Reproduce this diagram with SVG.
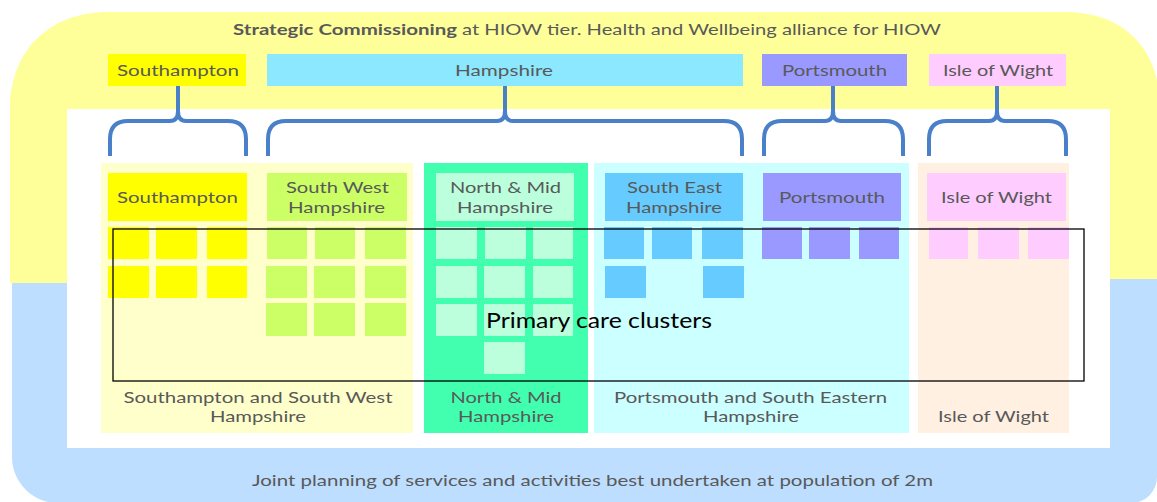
<svg xmlns="http://www.w3.org/2000/svg" width="1157" height="502" viewBox="0 0 1157 502">
<defs>
<style>
text{font-family:Lato,"Open Sans","Liberation Sans",sans-serif;fill:#595959;font-size:15px;text-anchor:middle}
.t16{font-size:16px}
.brace{fill:none;stroke:#4a7fc9;stroke-width:4;stroke-linejoin:round}
.yel{fill:#ffff00}
.sw{fill:#ccff66}
.nm{fill:#bbffdd}
.se{fill:#66ccff}
.pt{fill:#9999ff}
.iw{fill:#ffccff}
</style>
</defs>
<rect width="1157" height="502" fill="#ffffff"/>
<g id="background">
<path d="M108,12 H1065 C1125,12 1160,50 1160,107 V280 H1110 V109 H67 V283 H10 V109 C10,50 50,12 108,12 Z" fill="#ffff99"/>
<path d="M12,283 H67 V448 H1110 V279 H1157 V477 A26,26 0 0 1 1131,503 H58 A46,46 0 0 1 12,457 Z" fill="#bddefe"/>
<rect x="67" y="109" width="1043" height="339" fill="#ffffff"/>
<text class="t16" x="233" y="35" style="text-anchor:start"><tspan font-weight="bold" textLength="224" lengthAdjust="spacingAndGlyphs">Strategic Commissioning</tspan><tspan x="462" textLength="479" lengthAdjust="spacingAndGlyphs">at HIOW tier. Health and Wellbeing alliance for HIOW</tspan></text>
<text class="t16" x="592.5" y="486" textLength="681" lengthAdjust="spacingAndGlyphs">Joint planning of services and activities best undertaken at population of 2m</text>
</g>
<g id="top-southampton">
<rect class="yel" x="108" y="54" width="138" height="32"/>
<text x="178" y="76" textLength="122" lengthAdjust="spacingAndGlyphs">Southampton</text>
</g>
<g id="top-hampshire">
<rect x="267" y="54" width="476" height="32" fill="#8ce8fe"/>
<text x="504" y="76" textLength="98" lengthAdjust="spacingAndGlyphs">Hampshire</text>
</g>
<g id="top-portsmouth">
<rect class="pt" x="762" y="54" width="145" height="32"/>
<text x="834.5" y="76" textLength="105" lengthAdjust="spacingAndGlyphs">Portsmouth</text>
</g>
<g id="top-isle-of-wight">
<rect class="iw" x="929" y="54" width="137" height="32"/>
<text x="998" y="76" textLength="110" lengthAdjust="spacingAndGlyphs">Isle of Wight</text>
</g>
<g id="connectors">
<path class="brace" d="M110,156 V139 Q110,121 128,121 H170 Q178,121 178,111 V86 M178,111 Q178,121 186,121 H228 Q246,121 246,139 V156"/>
<path class="brace" d="M268,156 V139 Q268,121 286,121 H497 Q505,121 505,111 V86 M505,111 Q505,121 513,121 H724 Q742,121 742,139 V156"/>
<path class="brace" d="M764,156 V139 Q764,121 782,121 H825 Q833,121 833,111 V86 M833,111 Q833,121 841,121 H885 Q903,121 903,139 V156"/>
<path class="brace" d="M929,156 V139 Q929,121 947,121 H989 Q997,121 997,111 V86 M997,111 Q997,121 1005,121 H1048 Q1066,121 1066,139 V156"/>
</g>
<g id="zone-southampton-sw-hampshire">
<rect x="101" y="163" width="312" height="270" fill="#ffffcc"/>
<text x="258" y="402.5" textLength="269" lengthAdjust="spacingAndGlyphs">Southampton and South West</text>
<text x="258" y="421.5" textLength="96" lengthAdjust="spacingAndGlyphs">Hampshire</text>
</g>
<g id="zone-north-mid-hampshire">
<rect x="424" y="163" width="164" height="270" fill="#41ffaf"/>
<text x="506" y="402.5" textLength="111" lengthAdjust="spacingAndGlyphs">North &amp; Mid</text>
<text x="506" y="421.5" textLength="96" lengthAdjust="spacingAndGlyphs">Hampshire</text>
</g>
<g id="zone-portsmouth-se-hampshire">
<rect x="594" y="163" width="315" height="270" fill="#ccffff"/>
<text x="750.5" y="402.5" textLength="273" lengthAdjust="spacingAndGlyphs">Portsmouth and South Eastern</text>
<text x="751" y="421.5" textLength="96" lengthAdjust="spacingAndGlyphs">Hampshire</text>
</g>
<g id="zone-isle-of-wight">
<rect x="918" y="163" width="151" height="270" fill="#fff0e1"/>
<text x="993.5" y="421.5" textLength="111" lengthAdjust="spacingAndGlyphs">Isle of Wight</text>
</g>
<g id="sub-southampton">
<rect class="yel" x="108" y="173" width="139" height="48"/>
<text x="177.5" y="203" textLength="121" lengthAdjust="spacingAndGlyphs">Southampton</text>
<rect class="yel" x="108" y="227" width="41" height="32"/>
<rect class="yel" x="156" y="227" width="41" height="32"/>
<rect class="yel" x="207" y="227" width="40" height="32"/>
<rect class="yel" x="108" y="266" width="41" height="32"/>
<rect class="yel" x="156" y="266" width="41" height="32"/>
<rect class="yel" x="207" y="266" width="40" height="32"/>
</g>
<g id="sub-south-west-hampshire">
<rect class="sw" x="267" y="173" width="140" height="48"/>
<text x="337.5" y="193" textLength="103" lengthAdjust="spacingAndGlyphs">South West</text>
<text x="336.5" y="213" textLength="97" lengthAdjust="spacingAndGlyphs">Hampshire</text>
<rect class="sw" x="267" y="227" width="40" height="32"/>
<rect class="sw" x="315" y="227" width="40" height="32"/>
<rect class="sw" x="365" y="227" width="41" height="32"/>
<rect class="sw" x="266" y="266" width="41" height="32"/>
<rect class="sw" x="314" y="266" width="41" height="32"/>
<rect class="sw" x="365" y="266" width="41" height="32"/>
<rect class="sw" x="266" y="303" width="41" height="33"/>
<rect class="sw" x="314" y="303" width="41" height="33"/>
<rect class="sw" x="365" y="303" width="41" height="33"/>
</g>
<g id="sub-north-mid-hampshire">
<rect class="nm" x="436" y="173" width="138" height="48"/>
<text x="505.5" y="193" textLength="111" lengthAdjust="spacingAndGlyphs">North &amp; Mid</text>
<text x="505" y="213" textLength="96" lengthAdjust="spacingAndGlyphs">Hampshire</text>
<rect class="nm" x="436" y="227" width="41" height="32"/>
<rect class="nm" x="485" y="227" width="41" height="32"/>
<rect class="nm" x="533" y="227" width="40" height="32"/>
<rect class="nm" x="436" y="266" width="41" height="32"/>
<rect class="nm" x="484" y="266" width="41" height="32"/>
<rect class="nm" x="533" y="266" width="40" height="32"/>
<rect class="nm" x="436" y="304" width="41" height="32"/>
<rect class="nm" x="484" y="304" width="41" height="32"/>
<rect class="nm" x="533" y="304" width="40" height="32"/>
<rect class="nm" x="484" y="342" width="41" height="32"/>
</g>
<g id="sub-south-east-hampshire">
<rect class="se" x="605" y="173" width="138" height="48"/>
<text x="674.5" y="193" textLength="95" lengthAdjust="spacingAndGlyphs">South East</text>
<text x="674" y="213" textLength="96" lengthAdjust="spacingAndGlyphs">Hampshire</text>
<rect class="se" x="604" y="227" width="40" height="32"/>
<rect class="se" x="652" y="227" width="40" height="32"/>
<rect class="se" x="702" y="227" width="41" height="32"/>
<rect class="se" x="605" y="266" width="41" height="32"/>
<rect class="se" x="703" y="266" width="41" height="32"/>
</g>
<g id="sub-portsmouth">
<rect class="pt" x="763" y="173" width="138" height="48"/>
<text x="832" y="203" textLength="106" lengthAdjust="spacingAndGlyphs">Portsmouth</text>
<rect class="pt" x="762" y="227" width="40" height="32"/>
<rect class="pt" x="809" y="227" width="41" height="32"/>
<rect class="pt" x="859" y="227" width="40" height="32"/>
</g>
<g id="sub-isle-of-wight">
<rect class="iw" x="927" y="173" width="139" height="48"/>
<text x="996.5" y="203" textLength="111" lengthAdjust="spacingAndGlyphs">Isle of Wight</text>
<rect class="iw" x="929" y="227" width="39" height="32"/>
<rect class="iw" x="978" y="227" width="41" height="32"/>
<rect class="iw" x="1028" y="227" width="41" height="32"/>
</g>
<g id="primary-care-clusters">
<rect x="113" y="229" width="971" height="152" fill="none" stroke="#000000" stroke-width="1.3"/>
<text x="599" y="328" style="fill:#000000;font-size:22px" textLength="226" lengthAdjust="spacingAndGlyphs">Primary care clusters</text>
</g>
</svg>
